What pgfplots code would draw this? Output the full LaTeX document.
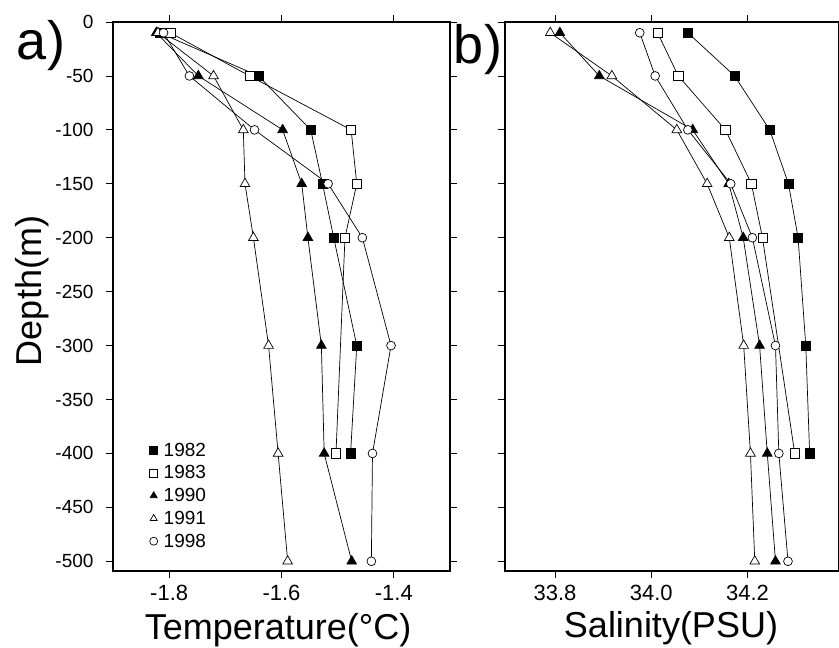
\documentclass[border=0pt]{standalone}
\usepackage{fontspec}
\setmainfont{Liberation Sans}
\setsansfont{Liberation Sans}
\usepackage{pgfplots}
\pgfplotsset{compat=1.18}

\pgfplotsset{
  panel/.style={
    scale only axis, height=549pt,
    ymin=-509, ymax=0,
    ytick={0,-50,...,-500},
    tick align=outside, tick pos=both,
    major tick length=7pt,
    axis line style={line width=1.4pt},
    every tick/.style={black, line width=0.8pt},
    /pgf/number format/assume math mode=true,
    yticklabel style={font=\fontsize{19}{21}\selectfont, xshift=-9pt},
    xticklabel style={font=\fontsize{22}{24}\selectfont, yshift=-4pt,
      /pgf/number format/fixed, /pgf/number format/fixed zerofill,
      /pgf/number format/precision=1},
    clip=false,
  },
  y82/.style={black, line width=0.7pt, mark=square*, mark size=4.6pt,
    mark options={solid, fill=black}},
  y83/.style={black, line width=0.7pt, mark=square*, mark size=4.6pt,
    mark options={solid, fill=white}},
  y90/.style={black, line width=0.7pt, mark=triangle*, mark size=5.6pt,
    mark options={solid, fill=black}},
  y91/.style={black, line width=0.7pt, mark=triangle*, mark size=5.6pt,
    mark options={solid, fill=white}},
  y98/.style={black, line width=0.7pt, mark=*, mark size=4.4pt,
    mark options={solid, fill=white}},
}

\begin{document}
\begin{tikzpicture}
% ---- a) temperature ----
\begin{axis}[panel, at={(113pt,77pt)}, anchor=south west,
  width=337pt, xmin=-1.9, xmax=-1.3,
  xtick={-1.8,-1.6,-1.4},
  legend style={draw=none, fill=none, at={(axis cs:-1.835,-389)},
    anchor=north west, inner sep=0pt, row sep=6pt,
    nodes={inner sep=1pt, font=\fontsize{19}{19}\selectfont}},
  legend cell align=left,
  legend image code/.code={%
    \path[draw=none, fill=none] (0pt,0pt) -- (9pt,0pt);
    \draw[#1, mark size=4pt, only marks] plot coordinates {(0pt,0pt)};},
]
\addplot[y82] coordinates {(-1.817,-10) (-1.641,-50) (-1.548,-100) (-1.527,-150)
  (-1.507,-200) (-1.466,-300) (-1.477,-400)};
\addplot[y83] coordinates {(-1.798,-10) (-1.657,-50) (-1.476,-100) (-1.466,-150)
  (-1.487,-200) (-1.503,-400)};
\addplot[y90] coordinates {(-1.823,-10) (-1.748,-50) (-1.598,-100) (-1.564,-150)
  (-1.553,-200) (-1.529,-300) (-1.524,-400) (-1.475,-500)};
\addplot[y91] coordinates {(-1.820,-10) (-1.721,-50) (-1.668,-100) (-1.665,-150)
  (-1.650,-200) (-1.623,-300) (-1.606,-400) (-1.589,-500)};
\addplot[y98] coordinates {(-1.810,-10) (-1.764,-50) (-1.648,-100) (-1.517,-150)
  (-1.456,-200) (-1.405,-300) (-1.438,-400) (-1.440,-500)};
\legend{1982,1983,1990,1991,1998}
\end{axis}

% ---- b) salinity ----
\begin{axis}[panel, at={(505pt,77pt)}, anchor=south west,
  width=334pt, xmin=33.696, xmax=34.39,
  xtick={33.8,34.0,34.2},
  yticklabels={},
]
\addplot[y82] coordinates {(34.076,-10) (34.173,-50) (34.246,-100) (34.285,-150)
  (34.305,-200) (34.321,-300) (34.329,-400)};
\addplot[y83] coordinates {(34.013,-10) (34.056,-50) (34.154,-100) (34.208,-150)
  (34.231,-200) (34.298,-400)};
\addplot[y90] coordinates {(33.810,-10) (33.892,-50) (34.086,-100) (34.161,-150)
  (34.191,-200) (34.225,-300) (34.241,-400) (34.258,-500)};
\addplot[y91] coordinates {(33.790,-10) (33.918,-50) (34.053,-100) (34.116,-150)
  (34.162,-200) (34.192,-300) (34.206,-400) (34.215,-500)};
\addplot[y98] coordinates {(33.976,-10) (34.008,-50) (34.076,-100) (34.165,-150)
  (34.210,-200) (34.258,-300) (34.265,-400) (34.284,-500)};
\end{axis}

% panel letters and axis titles
\node[font=\fontsize{54}{54}\selectfont, inner sep=0pt] at (41pt,602pt) {a)};
\node[font=\fontsize{54}{54}\selectfont, inner sep=0pt] at (478pt,598pt) {b)};
\node[font=\fontsize{36}{36}\selectfont, rotate=90, inner sep=0pt] at (32pt,357pt) {Depth(m)};
\node[font=\fontsize{36}{36}\selectfont, anchor=base, inner sep=0pt] at (278pt,8pt) {Temperature(°C)};
\node[font=\fontsize{36}{36}\selectfont, anchor=base, inner sep=0pt] at (671pt,10pt) {Salinity(PSU)};

\pgfresetboundingbox
\path[use as bounding box] (0,0) rectangle (839pt,648pt);
\end{tikzpicture}
\end{document}
